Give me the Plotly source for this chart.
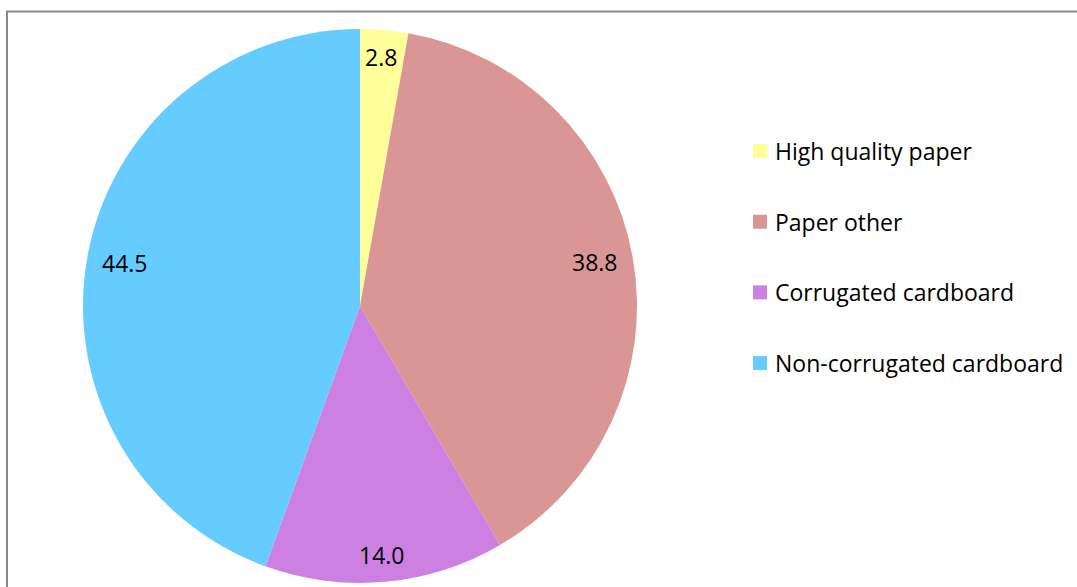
import math
import plotly.graph_objects as go

# Composition of paper / cardboard fraction (%)
categories = ["High quality paper", "Paper other", "Corrugated cardboard", "Non-corrugated cardboard"]
values = [2.8, 38.8, 14.0, 44.5]
value_labels = ["2.8", "38.8", "14.0", "44.5"]
colors = ["#FFFF99", "#D99694", "#CC80E2", "#66CCFF"]

W, H = 1077, 587
FONT = "Open Sans"
FS = 23

# Pie placement in pixels (centre and radius)
cx, cy, R = 360, 306, 277

def px(x):
    return x / W

def py(y):
    return 1 - y / H

fig = go.Figure()
fig.add_trace(go.Pie(
    labels=categories,
    values=values,
    marker=dict(colors=colors, line=dict(width=0)),
    sort=False,
    direction="clockwise",
    rotation=0,
    textinfo="none",
    hoverinfo="label+value",
    showlegend=False,
    domain=dict(x=[px(cx - R), px(cx + R)], y=[py(cy + R), py(cy - R)]),
))

# Value labels at the inside end of each slice: anchor a point on the
# bisector just inside the rim, then pull the label box inward from it
total = sum(values)
cum = 0.0
annotations = []
for v, t in zip(values, value_labels):
    mid = (cum + v / 2) / total * 2 * math.pi
    cum += v
    bw, bh = 0.5 * FS * len(t), 24
    ra = R - 15
    ax = cx + ra * math.sin(mid)
    ay = cy - ra * math.cos(mid)
    x = ax - bw / 2 * math.sin(mid)
    y = ay + bh / 2 * math.cos(mid)
    annotations.append(dict(
        x=px(x), y=py(y), xref="paper", yref="paper",
        text=t, showarrow=False, xanchor="center", yanchor="middle",
        font=dict(family=FONT, size=FS, color="#000000"),
    ))

# Legend built from squares and text
shapes = []
lx, ly0, gap, sq = 753, 151, 70.7, 14
for i, (name, c) in enumerate(zip(categories, colors)):
    yc = ly0 + i * gap
    shapes.append(dict(
        type="rect", xref="paper", yref="paper",
        x0=px(lx), x1=px(lx + sq), y0=py(yc + sq / 2), y1=py(yc - sq / 2),
        fillcolor=c, line=dict(width=0),
    ))
    annotations.append(dict(
        x=px(lx + sq + 6), y=py(yc), xref="paper", yref="paper",
        text=name, showarrow=False, xanchor="left", yanchor="middle",
        font=dict(family=FONT, size=FS, color="#000000"),
    ))

# Chart-area border
shapes.append(dict(
    type="rect", xref="paper", yref="paper",
    x0=px(7), x1=1.02, y0=-0.02, y1=py(11.5),
    line=dict(color="#888888", width=2), fillcolor="rgba(0,0,0,0)",
))

fig.update_layout(
    width=W, height=H,
    margin=dict(l=0, r=0, t=0, b=0),
    paper_bgcolor="#FFFFFF",
    plot_bgcolor="#FFFFFF",
    annotations=annotations,
    shapes=shapes,
)

fig.write_html("out.html")
